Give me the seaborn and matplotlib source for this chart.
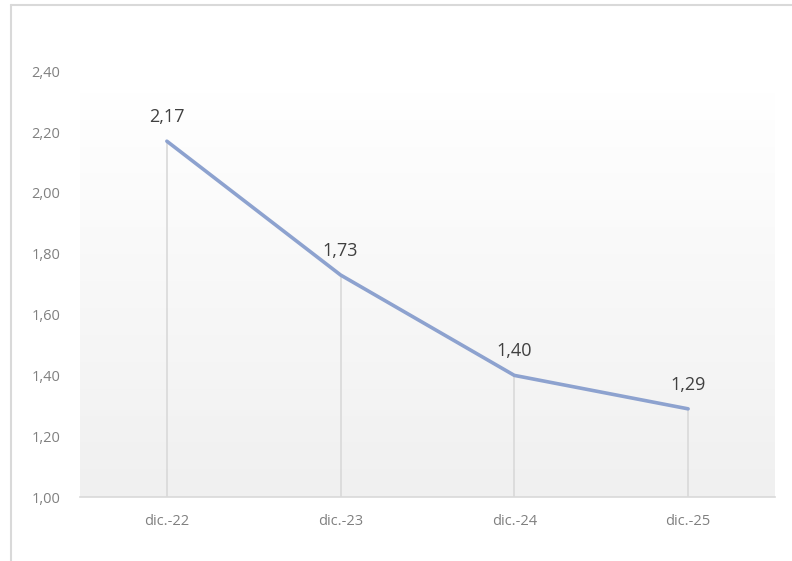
import matplotlib
matplotlib.use("Agg")
import matplotlib.pyplot as plt
import seaborn as sns
import numpy as np
from matplotlib.colors import LinearSegmentedColormap
from matplotlib.lines import Line2D

periods = ["dic.-22", "dic.-23", "dic.-24", "dic.-25"]
values = [2.17, 1.73, 1.40, 1.29]
y_ticks = [1.0, 1.2, 1.4, 1.6, 1.8, 2.0, 2.2, 2.4]

sns.set_theme(style="white")
plt.rcParams["font.family"] = ["Open Sans", "DejaVu Sans"]

fig = plt.figure(figsize=(7.92, 5.61), dpi=100)
ax = fig.add_axes([0.101, 0.114, 0.8775, 0.759])

# frame around the chart (left and top edges visible)
fig.add_artist(Line2D([0.014, 0.014], [0, 0.991], color="#d9d9d9", lw=1.5, transform=fig.transFigure))
fig.add_artist(Line2D([0.014, 1.0], [0.991, 0.991], color="#d9d9d9", lw=1.5, transform=fig.transFigure))

ax.set_xlim(-0.5, 3.5)
ax.set_ylim(1.0, 2.4)

# gradient background: white at top, light gray at bottom
grad = np.linspace(0, 1, 256).reshape(-1, 1)
cmap = LinearSegmentedColormap.from_list("bg", ["#f0f0f0", "#ffffff"])
ax.imshow(grad, aspect="auto", cmap=cmap, origin="lower",
          extent=[-0.5, 3.5, 1.0, 2.33], zorder=0)

x = np.arange(len(periods))
ax.vlines(x, 1.0, values, color="#d9d9d9", lw=1.2, zorder=1)
sns.lineplot(x=x, y=values, ax=ax, color="#8da2cf", lw=2.6, zorder=3)

for xi, v in zip(x, values):
    ax.annotate(f"{v:.2f}".replace(".", ","), (xi, v), xytext=(0, 11),
                textcoords="offset points", ha="center", va="bottom",
                fontsize=13, color="#404040")

ax.set_xticks(x)
ax.set_xticklabels(periods)
ax.set_yticks(y_ticks)
ax.set_yticklabels([f"{t:.2f}".replace(".", ",") for t in y_ticks])
ax.tick_params(axis="both", length=0, labelsize=10.5, labelcolor="#808080")
ax.tick_params(axis="x", pad=12)
ax.tick_params(axis="y", pad=14)

for s in ["top", "right", "left"]:
    ax.spines[s].set_visible(False)
ax.spines["bottom"].set_color("#d9d9d9")
ax.spines["bottom"].set_linewidth(1.2)

fig.savefig("out.png", dpi=100)
